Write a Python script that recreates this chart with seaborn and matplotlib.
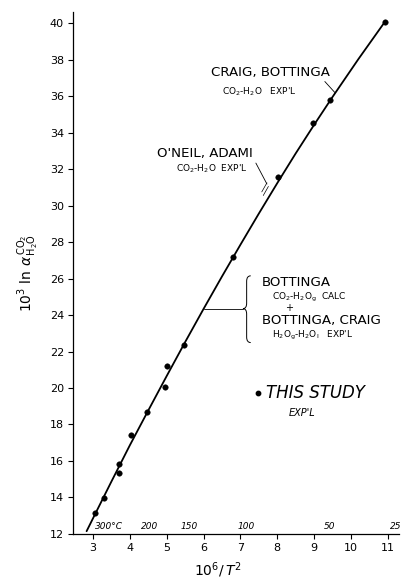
import numpy as np
import pandas as pd
import matplotlib
matplotlib.use("Agg")
import matplotlib.pyplot as plt
from matplotlib.path import Path
from matplotlib.patches import PathPatch
import seaborn as sns

# Measured fractionation: 10^6/T^2 vs 10^3 ln alpha (CO2-H2O)
study_x = [3.05, 3.31, 3.70, 3.71, 4.03, 4.48, 4.95, 5.00, 5.47, 6.80, 8.02, 8.97, 9.42, 10.91]
study_y = [13.13, 13.97, 15.33, 15.83, 17.41, 18.68, 20.05, 21.20, 22.37, 27.20, 31.58, 34.50, 35.81, 40.05]

# Literature curve (Bottinga; Craig; O'Neil & Adami)
curve_x = [2.83, 3.0, 3.5, 4.0, 4.5, 5.0, 5.5, 6.0, 6.5, 7.0, 7.5, 8.0, 8.5, 9.0, 9.5, 10.2, 10.91]
curve_y = [12.15, 12.84, 14.86, 16.85, 18.76, 20.65, 22.51, 24.33, 26.11, 27.85, 29.56, 31.23,
           32.86, 34.43, 35.96, 38.03, 40.05]

# Temperature scale (deg C) printed along the abscissa
temp_labels = ["300°C", "200", "150", "100", "50", "25"]
temp_pos = [3.05, 4.55, 5.6, 7.16, 9.43, 11.2]
temp_align = ["left", "center", "center", "center", "center", "center"]

x_ticks = [3, 4, 5, 6, 7, 8, 9, 10, 11]
y_ticks = list(range(12, 41, 2))

sns.set_style("ticks")
plt.rcParams["font.family"] = ["DejaVu Sans"]
plt.rcParams["text.color"] = "black"
plt.rcParams["axes.labelcolor"] = "black"

fig = plt.figure(figsize=(4.03, 5.81), dpi=100)
ax = fig.add_axes([0.181, 0.081, 0.809, 0.898])

pts = pd.DataFrame({"x": study_x, "y": study_y})
crv = pd.DataFrame({"x": curve_x, "y": curve_y})

sns.lineplot(data=crv, x="x", y="y", ax=ax, color="black", linewidth=1.3,
             sort=False, estimator=None)
sns.scatterplot(data=pts, x="x", y="y", ax=ax, color="black", s=16,
                edgecolor="black", linewidth=0.3, zorder=5)

ax.set_xlim(2.46, 11.3)
ax.set_ylim(12, 40.6)
ax.set_xticks(x_ticks)
ax.set_xticklabels([str(v) for v in x_ticks])
ax.set_yticks(y_ticks)
ax.set_yticklabels([str(v) for v in y_ticks])
ax.tick_params(axis="both", direction="out", length=3.5, width=0.8,
               labelsize=8, colors="black", pad=3)
sns.despine(ax=ax)
for side in ("left", "bottom"):
    ax.spines[side].set_linewidth(0.9)
    ax.spines[side].set_color("black")

ax.set_xlabel(r"$10^6/\,T^2$", fontsize=10)
ax.xaxis.set_label_coords(0.445, -0.05)
ax.set_ylabel(r"$10^3\ \ln\,\alpha^{\,\mathrm{CO_2}}_{\,\mathrm{H_2O}}$",
              fontsize=10, labelpad=6)

# temperature scale
for lab, pos, ha in zip(temp_labels, temp_pos, temp_align):
    ax.text(pos, 12.15, lab, fontsize=6.5, style="italic", ha=ha, va="bottom",
            clip_on=False)

big = 9.6
small = 6.5

# Craig, Bottinga
ax.text(7.82, 37.3, "CRAIG, BOTTINGA", fontsize=big, ha="center", va="center")
ax.text(7.50, 36.26, r"CO$_2$-H$_2$O   EXP'L", fontsize=small, ha="center", va="center")
ax.plot([9.29, 9.56], [36.8, 36.2], color="black", lw=0.6)

# O'Neil, Adami
ax.text(6.04, 32.87, "O'NEIL, ADAMI", fontsize=big, ha="center", va="center")
ax.text(6.22, 32.0, r"CO$_2$-H$_2$O  EXP'L", fontsize=small, ha="center", va="center")
ax.plot([7.42, 7.72], [32.33, 31.18], color="black", lw=0.6)
ax.plot([7.58, 7.72], [30.75, 31.25], color="black", lw=0.5)
ax.plot([7.62, 7.76], [30.55, 31.05], color="black", lw=0.5)

# Bottinga bracket
ax.plot([6.0, 7.07], [24.35, 24.35], color="black", lw=0.6)
bx, top, bot, mid = 7.17, 26.15, 22.49, 24.35
verts = [(bx + 0.11, top), (bx, top), (bx, top - 0.3),
         (bx, mid + 0.3), (bx, mid), (bx - 0.1, mid),
         (bx, mid), (bx, mid - 0.3),
         (bx, bot + 0.3), (bx, bot), (bx + 0.11, bot)]
codes = [Path.MOVETO, Path.CURVE3, Path.CURVE3,
         Path.LINETO, Path.CURVE3, Path.CURVE3,
         Path.CURVE3, Path.CURVE3,
         Path.LINETO, Path.CURVE3, Path.CURVE3]
ax.add_patch(PathPatch(Path(verts, codes), facecolor="none", edgecolor="black", lw=0.7))

ax.text(7.58, 25.77, "BOTTINGA", fontsize=big, ha="left", va="center")
ax.text(7.85, 24.95, r"CO$_2$-H$_2$O$_\mathrm{g}$  CALC", fontsize=small, ha="left", va="center")
ax.text(8.31, 24.4, "+", fontsize=7, ha="center", va="center")
ax.text(7.58, 23.69, "BOTTINGA, CRAIG", fontsize=big, ha="left", va="center")
ax.text(7.85, 22.87, r"H$_2$O$_\mathrm{g}$-H$_2$O$_\mathrm{l}$   EXP'L", fontsize=small,
        ha="left", va="center")

# this study
ax.scatter([7.47], [19.7], s=10, color="black", zorder=5)
ax.text(7.69, 19.7, "THIS STUDY", fontsize=12, style="italic", ha="left", va="center")
ax.text(8.66, 18.61, "EXP'L", fontsize=7, style="italic", ha="center", va="center")

fig.savefig("out.png", dpi=100, facecolor="white")
